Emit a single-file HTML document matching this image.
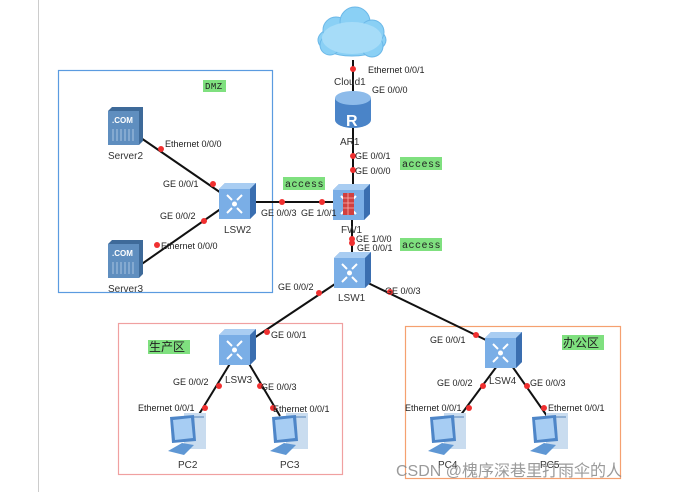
<!DOCTYPE html>
<html><head><meta charset="utf-8"><style>
html,body{margin:0;padding:0;background:#fff;}
svg{display:block}
text{font-family:"Liberation Sans","Noto Sans CJK SC",sans-serif;font-size:9px;fill:#222}
.n{font-size:10px;fill:#333}
.g{fill:#7fe07f}
.m{font-family:"Liberation Mono",monospace;font-size:10px;fill:#222;letter-spacing:0.5px}
</style></head><body>
<svg width="682" height="492" viewBox="0 0 682 492" xmlns="http://www.w3.org/2000/svg">
<defs>
<g id="sw">
 <path d="M0,6 L6,0 L37,0 L37,30 L31,36 L0,36 Z" fill="#5b8fcf"/>
 <path d="M0,6 L6,0 L37,0 L31,6 Z" fill="#a9cdf2"/>
 <path d="M31,6 L37,0 L37,30 L31,36 Z" fill="#3a6eb0"/>
 <rect x="0" y="6" width="31" height="30" fill="#7aaee6"/>
 <g stroke="#fff" stroke-width="2" fill="none">
  <path d="M8,12 L13,17 M8,30 L13,25 M23,12 L18,17 M23,30 L18,25"/>
 </g>
 <circle cx="15.5" cy="21" r="2.5" fill="#fff"/>
</g>
<g id="srv">
 <path d="M0,4 L4,0 L35,0 L35,34 L31,38 L0,38 Z" fill="#3e6a99"/>
 <rect x="0" y="4" width="31" height="34" fill="#5f8ebf"/>
 <text x="4" y="16" style="font-size:8px;fill:#fff;font-weight:bold">.COM</text>
 <g stroke="#a8c4e0" stroke-width="1"><path d="M5,22V34M9,22V34M13,22V34M17,22V34M21,22V34M25,22V34"/></g>
</g>
<g id="pc">
 <rect x="16" y="0" width="22" height="36" fill="#c9dcef"/>
 <rect x="18" y="3" width="18" height="2" fill="#8fb0d4"/>
 <path d="M2,4 L26,2 L28,28 L4,30 Z" fill="#4e86c8"/>
 <path d="M5,7 L23,5 L25,25 L7,27 Z" fill="#a7cdf3"/>
 <path d="M0,38 L14,30 L26,32 L16,42 Z" fill="#5f97d4"/>
</g>
</defs>

<line x1="38.5" y1="0" x2="38.5" y2="492" stroke="#ccc"/>
<rect x="58.5" y="70.5" width="214" height="222" fill="none" stroke="#5b9be0" stroke-width="1.2"/>
<rect x="118.5" y="323.5" width="224" height="151" fill="none" stroke="#f0a0a0" stroke-width="1.2"/>
<rect x="405.5" y="326.5" width="215" height="152" fill="none" stroke="#f5a070" stroke-width="1.2"/>

<g stroke="#111" stroke-width="2">
 <line x1="353" y1="60" x2="353" y2="190"/>
 <line x1="352" y1="215" x2="352" y2="258"/>
 <line x1="141" y1="138" x2="224" y2="195"/>
 <line x1="136" y1="268" x2="222" y2="208"/>
 <line x1="254" y1="202" x2="335" y2="202"/>
 <line x1="338" y1="282" x2="254" y2="338"/>
 <line x1="366" y1="282" x2="488" y2="341"/>
 <line x1="231" y1="362" x2="198" y2="416"/>
 <line x1="248" y1="362" x2="280" y2="416"/>
 <line x1="497" y1="366" x2="460" y2="416"/>
 <line x1="512" y1="366" x2="547" y2="416"/>
</g>

<!-- cloud -->
<g fill="#8ad0f5" stroke="#6bb8e8">
 <ellipse cx="352" cy="40" rx="34" ry="16"/>
 <circle cx="336" cy="30" r="13"/><circle cx="355" cy="22" r="15"/><circle cx="372" cy="32" r="12"/>
 <circle cx="330" cy="45" r="10"/><circle cx="372" cy="46" r="11"/>
</g>
<ellipse cx="352" cy="38" rx="30" ry="16" fill="#a6dcf8"/>
<!-- router -->
<path d="M335,98 L335,120 A18,8 0 0 0 371,120 L371,98 Z" fill="#4a84c8"/>
<ellipse cx="353" cy="98" rx="18" ry="7" fill="#8dbbea"/>
<text x="346" y="126" style="font-size:16px;fill:#fff;font-weight:bold">R</text>

<!-- firewall -->
<g transform="translate(333,184)">
 <use href="#sw"/>
 <rect x="10" y="9" width="11" height="22" fill="#d04040"/>
 <path d="M10,14H21M10,19H21M10,24H21M15,9V31" stroke="#f7b0b0" stroke-width="0.8"/>
</g>
<use href="#sw" x="219" y="183"/>
<use href="#sw" x="334" y="252"/>
<use href="#sw" x="219" y="329"/>
<use href="#sw" x="485" y="332"/>
<use href="#srv" x="108" y="107"/>
<use href="#srv" x="108" y="240"/>
<use href="#pc" x="168" y="413"/>
<use href="#pc" x="270" y="413"/>
<use href="#pc" x="428" y="413"/>
<use href="#pc" x="530" y="413"/>

<g fill="#f03030">
 <circle cx="353" cy="69" r="3"/><circle cx="353" cy="156" r="3"/><circle cx="353" cy="170" r="3"/>
 <circle cx="352" cy="239" r="3"/><circle cx="352" cy="243" r="3"/>
 <circle cx="161" cy="149" r="3"/><circle cx="213" cy="184" r="3"/>
 <circle cx="204" cy="221" r="3"/><circle cx="157" cy="245" r="3"/>
 <circle cx="282" cy="202" r="3"/><circle cx="322" cy="202" r="3"/>
 <circle cx="319" cy="293" r="3"/><circle cx="267" cy="332" r="3"/>
 <circle cx="390" cy="292" r="3"/><circle cx="476" cy="335" r="3"/>
 <circle cx="219" cy="386" r="3"/><circle cx="205" cy="408" r="3"/>
 <circle cx="260" cy="386" r="3"/><circle cx="273" cy="408" r="3"/>
 <circle cx="483" cy="386" r="3"/><circle cx="469" cy="408" r="3"/>
 <circle cx="527" cy="386" r="3"/><circle cx="544" cy="408" r="3"/>
</g>

<rect x="203" y="80" width="23" height="12" class="g"/><text x="205" y="89" class="m" style="font-size:9px">DMZ</text>
<rect x="283" y="177" width="42" height="13" class="g"/><text x="285" y="187" class="m">access</text>
<rect x="400" y="157" width="42" height="13" class="g"/><text x="402" y="167" class="m">access</text>
<rect x="400" y="238" width="42" height="13" class="g"/><text x="402" y="248" class="m">access</text>
<rect x="148" y="340" width="42" height="14" class="g"/><text x="149" y="351" style="font-size:12px">生产区</text>
<rect x="562" y="335" width="42" height="15" class="g"/><text x="563" y="347" style="font-size:12px">办公区</text>

<text x="334" y="85" class="n">Cloud1</text>
<text x="368" y="73">Ethernet 0/0/1</text>
<text x="372" y="93">GE 0/0/0</text>
<text x="340" y="145" class="n">AR1</text>
<text x="355" y="159">GE 0/0/1</text>
<text x="355" y="174">GE 0/0/0</text>
<text x="341" y="233" class="n">FW1</text>
<text x="356" y="242">GE 1/0/0</text>
<text x="357" y="251">GE 0/0/1</text>
<text x="338" y="301" class="n">LSW1</text>
<text x="108" y="159" class="n">Server2</text>
<text x="108" y="292" class="n">Server3</text>
<text x="165" y="147">Ethernet 0/0/0</text>
<text x="163" y="187">GE 0/0/1</text>
<text x="160" y="219">GE 0/0/2</text>
<text x="161" y="249">Ethernet 0/0/0</text>
<text x="224" y="233" class="n">LSW2</text>
<text x="261" y="216">GE 0/0/3</text>
<text x="301" y="216">GE 1/0/1</text>
<text x="278" y="290">GE 0/0/2</text>
<text x="385" y="294">GE 0/0/3</text>
<text x="271" y="338">GE 0/0/1</text>
<text x="430" y="343">GE 0/0/1</text>
<text x="225" y="383" class="n">LSW3</text>
<text x="489" y="384" class="n">LSW4</text>
<text x="173" y="385">GE 0/0/2</text>
<text x="261" y="390">GE 0/0/3</text>
<text x="138" y="411">Ethernet 0/0/1</text>
<text x="273" y="412">Ethernet 0/0/1</text>
<text x="437" y="386">GE 0/0/2</text>
<text x="530" y="386">GE 0/0/3</text>
<text x="405" y="411">Ethernet 0/0/1</text>
<text x="548" y="411">Ethernet 0/0/1</text>
<text x="178" y="468" class="n">PC2</text>
<text x="280" y="468" class="n">PC3</text>
<text x="438" y="468" class="n">PC4</text>
<text x="540" y="468" class="n">PC5</text>
<text x="396" y="476" style="font-size:16px;fill:#888;fill-opacity:0.85">CSDN @槐序深巷里打雨伞的人</text>
</svg>
</body></html>
